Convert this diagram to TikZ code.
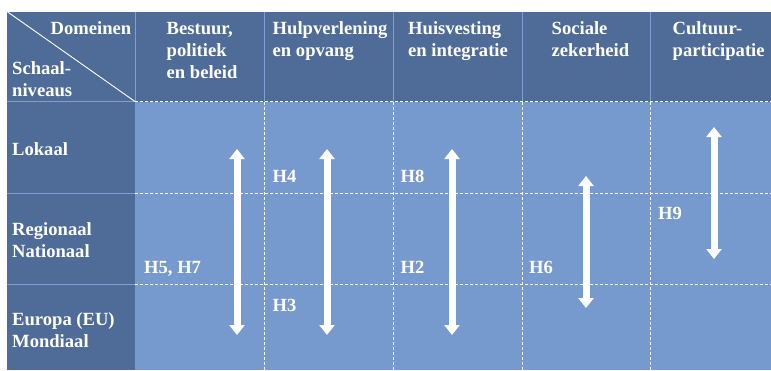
\documentclass[tikz,border=0pt]{standalone}
\usepackage{fontspec}
\setmainfont{Liberation Serif}
\usetikzlibrary{arrows.meta}
\definecolor{hdr}{HTML}{4F6C98}
\definecolor{bodyblue}{HTML}{7699CE}
\definecolor{rulecol}{HTML}{7E9FD4}
\begin{document}
\begin{tikzpicture}[x=1pt,y=-1pt,
  lbl/.style={text=white,font=\bfseries\fontsize{18.6}{21.7}\selectfont,inner sep=0pt,anchor=base west,align=left},
  solidrule/.style={draw=rulecol,line width=1pt},
  dashrule/.style={draw=white,line width=0.8pt,dash pattern=on 3pt off 2pt},
  dblarrow/.style={draw=white,line width=7pt,{Triangle[width=15pt,length=10pt]}-{Triangle[width=15pt,length=10pt]}}]
\useasboundingbox (0,0) rectangle (771,370);
\fill[white] (0,0) rectangle (771,370);
% backgrounds
\fill[hdr] (7,11.5) rectangle (771,101.5);
\fill[hdr] (7,101.5) rectangle (135,370);
\fill[bodyblue] (135,101.5) rectangle (771,370);
% header rules
\foreach \x in {135,264,393,522,650} \draw[solidrule] (\x,11.5) -- (\x,101.5);
\draw[solidrule] (7,101.5) -- (135,101.5);
\draw[solidrule] (7,193) -- (135,193);
\draw[solidrule] (7,284) -- (135,284);
% body dashed grid
\foreach \y in {101.5,193,284} \draw[dashrule] (135,\y) -- (771,\y);
\foreach \x in {264,393,522,650} \draw[dashrule] (\x,101.5) -- (\x,370);
% diagonal
\coordinate (tl) at (7,11.5);
\coordinate (hc) at (135,101.5);
\draw[white,line width=0.9pt] (tl) -- (hc);
% header texts (multi-line nodes: base = last line)
\node[lbl,anchor=base east] (dom) at (131.5,34) {Domeinen};
\node[lbl] (sch) at (12,96) {Schaal-\\niveaus};
\node[lbl] (c1) at (166.5,78) {Bestuur,\\politiek\\en beleid};
\node[lbl] (c2) at (272.5,56) {Hulpverlening\\en opvang};
\node[lbl] (c3) at (408,56) {Huisvesting\\en integratie};
\node[lbl] (c4) at (551.5,56) {Sociale\\zekerheid};
\node[lbl] (c5) at (672.5,56) {Cultuur-\\participatie};
% row labels
\node[lbl] (r1) at (12,155) {Lokaal};
\node[lbl] (r2) at (12,257) {Regionaal\\Nationaal};
\node[lbl] (r3) at (12,347) {Europa (EU)\\Mondiaal};
% cell labels
\node[lbl] (h4) at (272.5,182) {H4};
\node[lbl] (h57) at (144,273) {H5, H7};
\node[lbl] (h3) at (272.5,311) {H3};
\node[lbl] (h8) at (400.5,182) {H8};
\node[lbl] (h2) at (400.5,273) {H2};
\node[lbl] (h6) at (529,273) {H6};
\node[lbl] (h9) at (658,219) {H9};
% arrows
\coordinate (a1t) at (237,149); \coordinate (a1b) at (237,335);
\coordinate (a2t) at (327,149); \coordinate (a2b) at (327,335);
\coordinate (a3t) at (452,149); \coordinate (a3b) at (452,335);
\coordinate (a4t) at (586,176); \coordinate (a4b) at (586,308);
\coordinate (a5t) at (714,127); \coordinate (a5b) at (714,259);
\draw[dblarrow] (a1t) -- (a1b);
\draw[dblarrow] (a2t) -- (a2b);
\draw[dblarrow] (a3t) -- (a3b);
\draw[dblarrow] (a4t) -- (a4b);
\draw[dblarrow] (a5t) -- (a5b);
\end{tikzpicture}
\end{document}
